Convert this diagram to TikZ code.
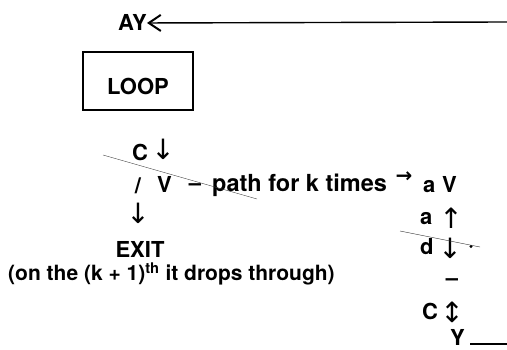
\documentclass[tikz,border=0pt]{standalone}
\usepackage{fontspec}
\setmainfont{TeX Gyre Heros}
\newfontfamily\arrowfont{DejaVu Sans}
\usetikzlibrary{arrows.meta}

\tikzset{
  txt/.style={font=\fontsize{22}{26}\selectfont\bfseries, inner sep=0pt},
  arr/.style={font=\fontsize{28}{32}\selectfont\arrowfont, inner sep=0pt},
  scratch/.style={line width=0.4pt, black!75},
}

\begin{document}
\begin{tikzpicture}[x=1pt,y=-1pt]
			\useasboundingbox (0,0) rectangle (507,350);
			% return line
			\node[txt, anchor=base west] (ay) at (118,31) {AY};
			\coordinate (topright) at (507,22);
			\draw[line width=1.4pt, -{Straight Barb[length=12pt,width=16pt,line width=2pt]}] (topright) -- (ay.east);
			% loop box
			\node[txt, draw, line width=1.2pt, minimum width=110pt, minimum height=58pt, text height=28pt, text depth=0pt] (loop) at (138,81) {LOOP};
			% loop body
			\node[txt, anchor=base west] (c1) at (132,161) {C};
			\node[arr] (c1arr) at (163,149) {↓};
			\node[txt, anchor=base] (slash) at (138,194) {/};
			\node[txt, anchor=base west] (v1) at (157,193) {V};
			\node[txt] (dash1) at (195,187) {–};
			\node[txt, anchor=base west, font=\fontsize{23.5}{27}\selectfont\bfseries] (path) at (212,192) {path for k times};
			\node[arr, font=\fontsize{20}{24}\selectfont\arrowfont\bfseries] (patharr) at (404,177) {→};
			\node[txt, anchor=base west] (a1) at (423,193) {a};
			\node[txt, anchor=base west] (v2) at (442,193) {V};
			\draw[scratch] (103,155) coordinate (s1) -- (257,199) coordinate (s2);
			% exit
			\node[arr] (exitarr) at (138,213) {↓};
			\node[txt, anchor=base] (exit) at (140,258) {EXIT};
			\node[txt, anchor=base west, font=\fontsize{21}{25}\selectfont\bfseries] (note) at (8,281) {(on the (k + 1)\textsuperscript{th} it drops through)};
			% right column
			\node[txt, anchor=base west] (a2) at (420,225) {a};
			\node[arr] (upa) at (451,218) {↑};
			\node[txt, anchor=base west] (d) at (420,255) {d};
			\node[arr] (downd) at (450,248) {↓};
			\draw[scratch] (400,231) coordinate (s3) -- (480,247) coordinate (s4);
			\fill (471,246.5) circle (1.6pt);
			\node[txt] (dash2) at (452,282) {–};
			\node[txt, anchor=base west] (c2) at (422,320) {C};
			\node[arr] (updown) at (452,312) {↕};
			\node[txt, anchor=base west] (y) at (450,346) {Y};
			\coordinate (botright) at (507,344);
			\draw[line width=1.3pt, shorten <=5pt] (y.east |- botright) -- (botright);
		\end{tikzpicture}
\end{document}
